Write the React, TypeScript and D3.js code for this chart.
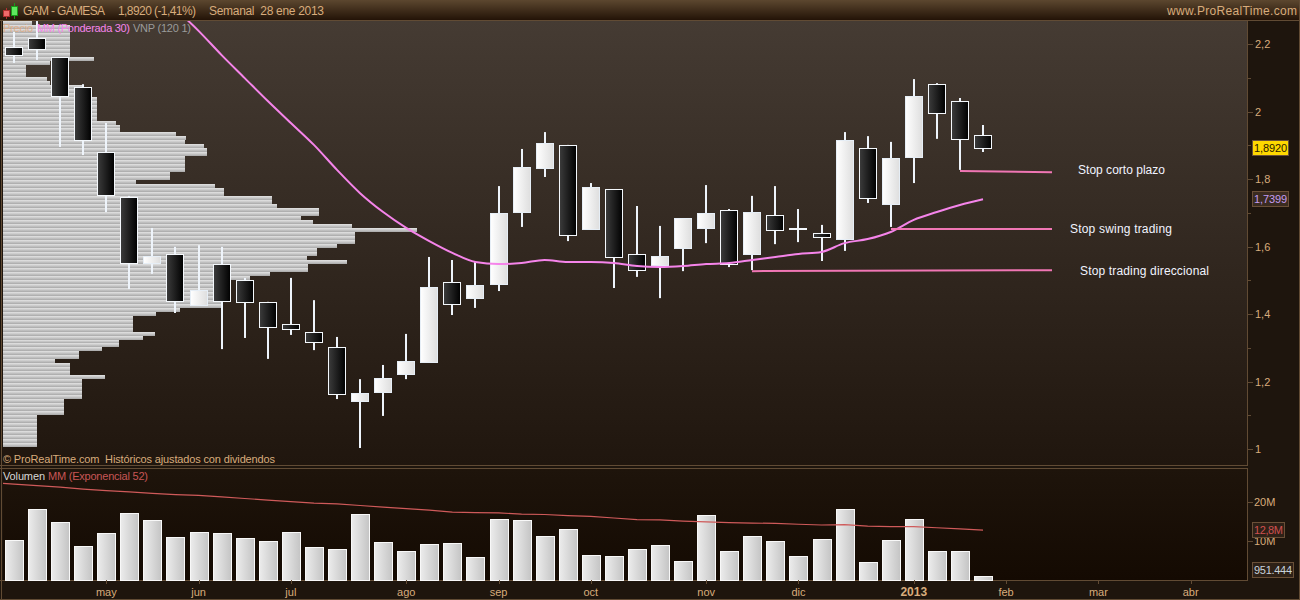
import React from "react";
import * as d3 from "d3";

const opens = [2.19,2.218,2.16,2.073,1.88,1.747,1.551,1.578,1.427,1.548,1.501,1.436,1.37,1.347,1.302,1.142,1.169,1.222,1.258,1.495,1.447,1.489,1.702,1.833,1.901,1.652,1.77,1.578,1.545,1.596,1.655,1.708,1.578,1.693,1.655,1.64,1.622,1.892,1.726,1.865,2.081,2.031,1.93];
const highs = [2.236,2.268,2.161,2.081,1.966,1.75,1.655,1.599,1.604,1.599,1.507,1.436,1.507,1.441,1.332,1.207,1.249,1.341,1.569,1.56,1.554,1.779,1.889,1.939,1.901,1.788,1.77,1.72,1.661,1.684,1.782,1.711,1.75,1.779,1.711,1.664,1.939,1.927,1.91,2.096,2.084,2.04,1.96];
const lows = [2.144,2.153,1.895,1.871,1.702,1.474,1.519,1.403,1.427,1.296,1.329,1.267,1.338,1.293,1.148,1.003,1.098,1.207,1.258,1.397,1.418,1.468,1.658,1.806,1.616,1.649,1.477,1.51,1.447,1.527,1.61,1.539,1.53,1.607,1.613,1.557,1.587,1.729,1.658,1.788,1.919,1.827,1.88];
const closes = [2.167,2.185,2.046,1.916,1.753,1.55,1.572,1.439,1.471,1.439,1.436,1.361,1.356,1.317,1.163,1.166,1.21,1.261,1.48,1.43,1.486,1.699,1.836,1.907,1.634,1.776,1.569,1.53,1.572,1.684,1.699,1.548,1.702,1.649,1.652,1.628,1.916,1.744,1.862,2.046,1.996,1.919,1.892];
const volumes = [10.2,18.1,14.8,8.6,12,17.1,15.3,10.9,12.2,12,10.7,9.9,12.2,8.4,7.9,16.8,9.7,7.4,9.2,9.4,5.8,15.6,15.3,11.2,13,6.3,6.1,7.9,9.1,4.8,16.6,7.4,11.2,9.9,6.1,10.4,18.1,4.5,10.2,15.6,7.4,7.4,0.95];
const volumeAverage = [24.6,24.2,23.8,23.3,22.9,22.6,22.2,21.9,21.7,21.3,20.9,20.5,20.1,19.7,19.5,19.1,18.7,18.3,17.9,17.4,17.3,17.2,16.9,16.8,16.5,16.3,15.9,15.5,15.4,15.1,14.9,14.7,14.6,14.5,14.3,14.1,14.2,13.8,13.7,13.7,13.4,13.1,12.8];
const volumeAverageLeadIn = 25;
const priceAverageStart = 7;
const priceAverage = [2.304,2.239,2.167,2.099,2.031,1.966,1.901,1.827,1.758,1.702,1.655,1.616,1.581,1.554,1.548,1.551,1.56,1.554,1.554,1.551,1.542,1.539,1.542,1.548,1.551,1.56,1.569,1.578,1.584,1.61,1.622,1.643,1.679,1.702,1.723,1.74];
const profile = [32,70,70,70,70,70,70,70,70,94,50,26,26,26,47,50,83,83,83,97,97,97,97,97,97,116,120,120,176,186,185,204,207,207,185,185,185,185,170,170,136,215,224,224,272,272,277,319,319,301,313,352,417,355,355,355,337,317,317,307,347,308,308,270,250,230,230,222,222,222,222,222,180,156,133,133,133,133,155,143,119,119,102,79,79,55,70,70,70,105,82,82,82,82,82,64,64,64,64,37,37,37,37,37,37,37,37];
const priceTicks = [1,1.2,1.4,1.6,1.8,2,2.2];
const priceMinorTicks = [1.1,1.3,1.5,1.7,1.9,2.1];
const volumeTicks = [10,20];
const monthIndex = [4,8,12,17,21,25,30,34,39,43,47,51];
const monthLabels = ["may","jun","jul","ago","sep","oct","nov","dic","2013","feb","mar","abr"];
const stopLabels = ["Stop corto plazo","Stop swing trading","Stop trading direccional"];
const stopFrom = [41,38,32];
const stopTo = [45,45,45];
const stopStartValue = [1.824,1.652,1.527];
const stopEndValue = [1.82,1.652,1.53];

const stopLabelX = [1078,1070,1080];
const stopLabelW = [87,102,129];
const stopLabelY = [174,233,275];

const x = d3.scaleLinear().domain([0, 42]).range([14, 983]);
const y = d3.scaleLinear().domain([1, 2.2]).range([449, 44]);
const yv = d3.scaleLinear().domain([0, 20]).range([580, 502]);
const pw = d3.scaleLinear().domain([0, 417]).range([0, 417]);
const rows = d3.scaleBand<number>().domain(d3.range(profile.length)).range([21, 447]);
const FONT = "'Liberation Sans', Arial, sans-serif";
const TAN = "#d8ac7c";
const LINE = "#614b34";
const cx = (i: number) => Math.round(x(i));
const stopX = (i: number) => (i === 45 ? 1052 : cx(i));

const maLine = d3.line<number>().x((_, i) => x(i + priceAverageStart)).y((d) => y(d)).curve(d3.curveMonotoneX);
const volLine = d3.line<number>().x((_, i) => x(i - 1)).y((d) => yv(d));

function T({ x: tx, y: ty, w, size = 11, fill, text, ...rest }: any) {
  return (
    <text x={tx} y={ty} fontSize={size} fill={fill} textLength={w} lengthAdjust="spacing" xmlSpace="preserve" {...rest}>
      {text}
    </text>
  );
}

function Label({ x: lx, y: ly, w, h, fill, color, text, tw }: any) {
  return (
    <g>
      <rect x={lx + 0.5} y={ly + 0.5} width={w} height={h} fill={fill} stroke="#6a5038" />
      <T x={lx + 2} y={ly + h / 2 + 4.5} w={tw} fill={color} text={text} />
    </g>
  );
}

export default function App() {
  return (
    <svg width={1300} height={600} fontFamily={FONT} style={{ position: "absolute", left: 0, top: 0, display: "block" }}>
      <defs>
        <linearGradient id="head" x1="0" y1="0" x2="0" y2="1">
          <stop offset="0" stopColor="#5c472f" /><stop offset="1" stopColor="#231307" />
        </linearGradient>
        <linearGradient id="panel" x1="0" y1="0" x2="0" y2="1">
          <stop offset="0" stopColor="#453b33" /><stop offset="1" stopColor="#20160e" />
        </linearGradient>
        <linearGradient id="vpanel" x1="0" y1="0" x2="0" y2="1">
          <stop offset="0" stopColor="#1e140b" /><stop offset="1" stopColor="#140a02" />
        </linearGradient>
        <linearGradient id="dark" x1="0" y1="0" x2="1" y2="0">
          <stop offset="0" stopColor="#3c3c3c" /><stop offset="1" stopColor="#000" />
        </linearGradient>
        <linearGradient id="light" x1="0" y1="0" x2="1" y2="0">
          <stop offset="0" stopColor="#fff" /><stop offset="1" stopColor="#dedede" />
        </linearGradient>
        <linearGradient id="vol" x1="0" y1="0" x2="1" y2="0">
          <stop offset="0" stopColor="#ececec" /><stop offset="1" stopColor="#c4c4c4" />
        </linearGradient>
        <linearGradient id="row" x1="0" y1="0" x2="0" y2="1">
          <stop offset="0" stopColor="#e2e2e2" /><stop offset="0.3" stopColor="#d2d2d2" /><stop offset="1" stopColor="#a8a8a8" />
        </linearGradient>
        <clipPath id="main"><rect x={3} y={21} width={1245} height={444} /></clipPath>
        <clipPath id="vclip"><rect x={3} y={469} width={1245} height={111} /></clipPath>
      </defs>

      <rect width={1300} height={600} fill="#1e150d" />
      <rect x={0} y={0} width={1300} height={20} fill="url(#head)" />
      <rect x={3} y={21} width={1245} height={444} fill="url(#panel)" />
      <rect x={3} y={469} width={1245} height={111} fill="url(#vpanel)" />
      <g stroke={LINE} fill="none">
        <path d="M0 20.5H1300M1.5 20V599M1247.5 21V465M0 465.5H1248M0 468.5H1248M1247.5 468V580M0 580.5H1248M0 599.5H1300M1299.5 0V600" />
      </g>

      {/* header */}
      <g>
        <line x1={6.5} x2={6.5} y1={8} y2={19} stroke="#b03030" />
        <rect x={3.5} y={10.5} width={6} height={6} fill="#f06a6a" stroke="#b03030" />
        <line x1={14.5} x2={14.5} y1={3} y2={19} stroke="#1a9a1a" />
        <rect x={11.5} y={6.5} width={6} height={9} fill="#5fe85f" stroke="#1a9a1a" />
      </g>
      <T x={23} y={15} w={82} size={12} fill={TAN} text="GAM - GAMESA" />
      <T x={118} y={15} w={78} size={12} fill={TAN} text="1,8920 (-1,41%)" />
      <T x={209} y={15} w={115} size={12} fill={TAN} text="Semanal  28 ene 2013" />
      <T x={1167} y={15} w={130} size={12} fill={TAN} text="www.ProRealTime.com" />

      {/* price panel */}
      <g clipPath="url(#main)">
        {profile.map((v, i) => {
          const top = Math.round(rows(i)!);
          const bot = Math.round(rows(i)! + rows.bandwidth());
          return <rect key={i} x={3} y={top} width={pw(v) - 3} height={bot - top} fill="url(#row)" />;
        })}
        {opens.map((o, i) => {
          const c = closes[i];
          const up = c >= o;
          const px = cx(i);
          const t = Math.round(y(Math.max(o, c)));
          const b = Math.round(y(Math.min(o, c)));
          return (
            <g key={i}>
              <rect x={px - 1} y={y(highs[i])} width={2} height={y(lows[i]) - y(highs[i])} fill="#eef4fb" />
              <rect x={px - 8.5} y={t + 0.5} width={17} height={Math.max(b - t, 1)} fill={up ? "url(#light)" : "url(#dark)"} stroke={up ? "#e6eef6" : "#f4f8fc"} />
            </g>
          );
        })}
        <path d={maLine(priceAverage)!} fill="none" stroke="#f584ea" strokeWidth={2} />
      </g>
      {stopLabels.map((label, i) => (
        <g key={label}>
          <line x1={stopX(stopFrom[i])} x2={stopX(stopTo[i])} y1={y(stopStartValue[i])} y2={y(stopEndValue[i])} stroke="#f076b4" strokeWidth={2} />
          <T x={stopLabelX[i]} y={stopLabelY[i]} w={stopLabelW[i]} size={12} fill="#f2f4ff" text={label} />
        </g>
      ))}
      <T x={3} y={32} w={30} fill="#e8a878" opacity={0.75} text="Precio" />
      <T x={37} y={32} w={93} fill="#f584ea" text="MM (Ponderada 30)" />
      <T x={133} y={32} w={58} fill="#9a9a9a" text="VNP (120 1)" />
      <T x={3} y={463} w={272} fill={TAN} text="© ProRealTime.com  Históricos ajustados con dividendos" />

      {/* price axis */}
      <g stroke={LINE}>
        {priceTicks.map((t) => <line key={t} x1={1248} x2={1253} y1={Math.round(y(t)) + 0.5} y2={Math.round(y(t)) + 0.5} />)}
        {priceMinorTicks.map((t) => <line key={t} x1={1248} x2={1251} y1={Math.round(y(t)) + 0.5} y2={Math.round(y(t)) + 0.5} />)}
      </g>
      <g fontSize={11} fill={TAN}>
        {priceTicks.map((t) => <text key={t} x={1255} y={y(t) + 4}>{d3.format(".1~f")(t).replace(".", ",")}</text>)}
      </g>
      <Label x={1252} y={140} w={36} h={15} fill="#ffd800" color="#2a1a00" text="1,8920" tw={33} />
      <Label x={1252} y={191} w={36} h={15} fill="#3a2b20" color="#c49cf0" text="1,7399" tw={33} />

      {/* volume panel */}
      <T x={3} y={480} w={42} fill="#d8d8d8" text="Volumen" />
      <T x={48} y={480} w={100} fill="#c85656" text="MM (Exponencial 52)" />
      {volumes.map((v, i) => (
        <rect key={i} x={cx(i) - 8.5} y={Math.round(yv(v)) + 0.5} width={18} height={580 - Math.round(yv(v))} fill="url(#vol)" stroke="#f8f8f8" />
      ))}
      <g clipPath="url(#vclip)">
        <path d={volLine([volumeAverageLeadIn, ...volumeAverage])!} fill="none" stroke="#cf5a5a" strokeWidth={1.2} />
      </g>
      <g stroke={LINE}>
        {volumeTicks.map((t) => <line key={t} x1={1248} x2={1253} y1={Math.round(yv(t)) + 0.5} y2={Math.round(yv(t)) + 0.5} />)}
      </g>
      <g fontSize={11} fill={TAN}>
        {volumeTicks.map((t) => <text key={t} x={1254} y={yv(t) + 4}>{t}M</text>)}
      </g>
      <Label x={1252} y={522} w={32} h={15} fill="#2e2117" color="#cf5050" text="12,8M" tw={29} />
      <Label x={1252} y={562} w={41} h={15} fill="#2e2117" color="#c8d2dc" text="951.444" tw={38} />

      {/* time axis */}
      <g stroke={LINE}>
        {monthIndex.map((m) => <line key={m} x1={Math.round(x(m)) + 0.5} x2={Math.round(x(m)) + 0.5} y1={580} y2={584} />)}
      </g>
      <g fontSize={11} fill={TAN} textAnchor="middle">
        {monthIndex.map((m, i) => (
          <text key={m} x={x(m)} y={596} fontSize={monthLabels[i] === "2013" ? 12 : 11} fontWeight={monthLabels[i] === "2013" ? 700 : 400}>{monthLabels[i]}</text>
        ))}
      </g>
    </svg>
  );
}
